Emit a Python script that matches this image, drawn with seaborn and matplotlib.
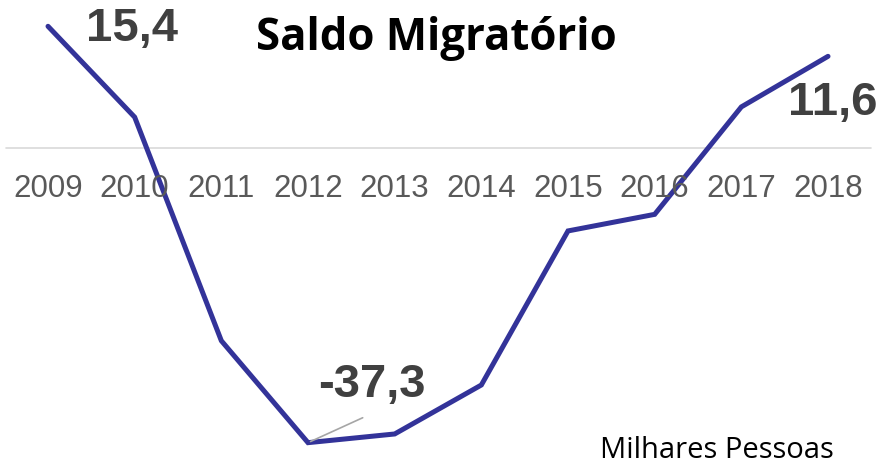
import numpy as np
import pandas as pd
import matplotlib
matplotlib.use("Agg")
import matplotlib.pyplot as plt
import seaborn as sns

# Saldo migratório (milhares de pessoas)
years = ["2009", "2010", "2011", "2012", "2013", "2014", "2015", "2016", "2017", "2018"]
saldo = [15.4, 3.9, -24.4, -37.3, -36.2, -30.0, -10.5, -8.4, 5.2, 11.6]
labelled = {"2009": "15,4", "2012": "-37,3", "2018": "11,6"}

LINE = "#333399"
GREY_TXT = "#595959"
DARK_TXT = "#404040"

sns.set_theme(style="white")
plt.rcParams["font.family"] = ["Liberation Sans", "DejaVu Sans"]

df = pd.DataFrame({"ano": years, "saldo": saldo})
df["pos"] = np.arange(len(df))

fig = plt.figure(figsize=(8.84, 4.67), dpi=100)
ax = fig.add_axes([0, 0, 1, 1])

ax.axhline(0, color="#d9d9d9", linewidth=1.2, xmin=0.007, xmax=0.985, zorder=1)
sns.lineplot(data=df, x="pos", y="saldo", ax=ax, color=LINE, linewidth=3.6,
             solid_joinstyle="miter", zorder=3)

ax.set_xlim(-0.554, 9.646)
ax.set_ylim(-40.38, 18.73)
ax.axis("off")

# year labels just under the zero line
for p, yr in zip(df["pos"], df["ano"]):
    ax.text(p, -5.15, yr, ha="center", va="center", fontsize=22.5, color=GREY_TXT)

# value labels
pos_of = dict(zip(df["ano"], df["pos"]))
val_of = dict(zip(df["ano"], df["saldo"]))
offsets = {"2009": (0.97, -0.3), "2012": (0.74, 7.3), "2018": (0.06, -5.9)}
for yr, txt in labelled.items():
    dx, dy = offsets[yr]
    ax.text(pos_of[yr] + dx, val_of[yr] + dy, txt, ha="center", va="center",
            fontsize=34, fontweight="bold", color=DARK_TXT, zorder=4)

# leader line to the minimum
ax.annotate("", xy=(pos_of["2012"], val_of["2012"]),
            xytext=(pos_of["2012"] + 0.66, val_of["2012"] + 3.3),
            arrowprops=dict(arrowstyle="-", color="#a6a6a6", linewidth=1.2))

fig.text(0.494, 0.918, "Saldo Migratório", ha="center", va="center",
         fontsize=31.5, fontweight="bold", color="black", family=["Open Sans", "DejaVu Sans"])
fig.text(0.811, 0.036, "Milhares Pessoas", ha="center", va="center",
         fontsize=21, color="black", family=["Open Sans", "DejaVu Sans"])

fig.savefig("out.png", dpi=100)
